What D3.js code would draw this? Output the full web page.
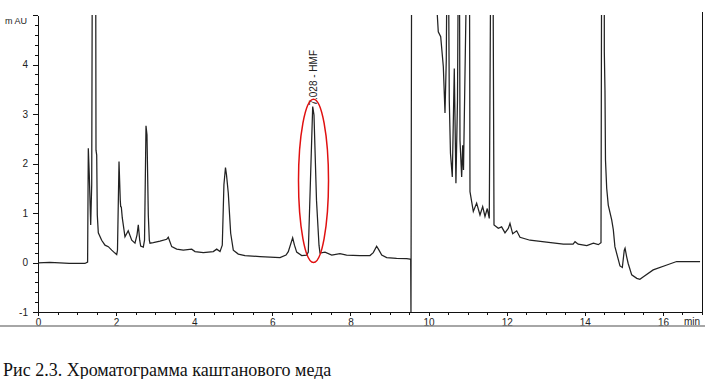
<!DOCTYPE html>
<meta charset="utf-8">
<style type="text/css">
body { margin: 0; background: #fff; }
svg { display: block; }
.axis text { font: 10px "Liberation Sans", Arial, sans-serif; fill: #222; }
.axis path, .axis line { stroke: #111; shape-rendering: crispEdges; }
.caption { font: 18px "Liberation Serif", "Times New Roman", serif; fill: #111; }
</style>
<body>
<script src="https://d3js.org/d3.v7.min.js"></script>
<script type="text/javascript">

// retention time (min) and detector signal (mAU)
var times = [0, 0.3, 0.56, 0.8, 1.2, 1.27, 1.288, 1.313, 1.349, 1.375, 1.39, 1.43, 1.477, 1.485, 1.503, 1.518, 1.544,
  1.63, 1.715, 1.8, 1.887, 1.97, 2.015, 2.035, 2.074, 2.106, 2.117, 2.133, 2.158, 2.227, 2.31, 2.4, 2.483, 2.535,
  2.568, 2.604, 2.629, 2.696, 2.727, 2.765, 2.79, 2.824, 2.85, 2.867, 2.952, 3.123, 3.295, 3.336, 3.423, 3.551,
  3.72, 3.935, 4.02, 4.232, 4.488, 4.575, 4.66, 4.718, 4.76, 4.80, 4.826, 4.872, 4.933, 5.0, 5.128, 5.3, 5.684,
  6.196, 6.35, 6.408, 6.52, 6.566, 6.623, 6.751, 6.88, 6.92, 6.976, 7.033, 7.066, 7.13, 7.194, 7.22, 7.348, 7.52,
  7.73, 7.9, 8.24, 8.5, 8.584, 8.67, 8.73, 8.8, 8.927, 9.18, 9.44, 9.524, 9.542, 9.549, 9.565, 10.0, 10.223,
  10.248, 10.31, 10.377, 10.42, 10.453, 10.47, 10.51, 10.53, 10.56, 10.607, 10.658, 10.7, 10.74, 10.76, 10.79,
  10.804, 10.847, 10.873, 10.894, 10.975, 11.047, 11.06, 11.145, 11.23, 11.316, 11.385, 11.444, 11.503, 11.554,
  11.59, 11.65, 11.675, 11.785, 11.87, 11.956, 12.04, 12.084, 12.153, 12.256, 12.34, 12.596, 13.02, 13.45, 13.7,
  13.75, 13.83, 14.05, 14.22, 14.345, 14.414, 14.43, 14.498, 14.499, 14.516, 14.529, 14.56, 14.6, 14.688, 14.73,
  14.77, 14.9, 14.96, 15.01, 15.03, 15.07, 15.11, 15.2, 15.33, 15.41, 15.5, 15.75, 16.1, 16.35, 16.95];

var signal = [-0.01, 0.0, -0.01, -0.02, -0.02, 0.01, 2.31, 1.77, 0.76, 1.57, 6, 8, 6, 2.27, 2.17, 0.96, 0.6,
  0.45, 0.35, 0.32, 0.25, 0.19, 0.16, 0.25, 2.04, 1.26, 1.13, 1.12, 0.9, 0.52, 0.64, 0.45, 0.39, 0.56,
  0.76, 0.45, 0.33, 0.31, 0.45, 2.76, 2.58, 0.96, 0.45, 0.39, 0.4, 0.43, 0.47, 0.51, 0.32, 0.27,
  0.25, 0.27, 0.22, 0.2, 0.22, 0.27, 0.22, 0.35, 1.57, 1.92, 1.77, 1.4, 0.59, 0.25, 0.17, 0.14, 0.12,
  0.1, 0.15, 0.22, 0.5, 0.35, 0.21, 0.14, 0.15, 0.21, 1.67, 3.15, 2.98, 1.26, 0.35, 0.19, 0.21, 0.15,
  0.18, 0.15, 0.14, 0.14, 0.2, 0.33, 0.25, 0.15, 0.1, 0.085, 0.08, 0.07, 0.07, -1.1, 6, 6, 5.0,
  4.66, 4.56, 3.96, 3.02, 4.09, 6, 6, 3.28, 2.21, 1.73, 3.92, 1.6, 3.28, 6, 6,
  2.47, 1.73, 2.37, 1.87, 6, 6, 1.43, 1.03, 1.2, 0.96, 1.13, 0.93, 1.09, 0.89,
  6, 6, 0.76, 0.69, 0.72, 0.6, 0.69, 0.79, 0.58, 0.64, 0.51, 0.45, 0.41, 0.37, 0.37,
  0.42, 0.37, 0.34, 0.39, 0.36, 0.4, 6, 6, 4.26, 3.48, 2.07, 1.5, 1.16, 0.86, 0.66,
  0.32, -0.07, -0.1, 0.25, 0.29, 0.12, -0.02, -0.25, -0.32, -0.34, -0.29, -0.15, -0.05, 0.02, 0.02];

var xMajor = [0, 2, 4, 6, 8, 10, 12, 14, 16];
var yMajor = [-1, 0, 1, 2, 3, 4, 5];
var peakTime = 7.028, peakLabel = "7.028 - HMF";
var caption = "Рис 2.3. Хроматограмма каштанового меда";

var W = 711, H = 379;
var svg = d3.select("body").append("svg").attr("width", W).attr("height", H);

var x = d3.scaleLinear().domain([0, 17]).range([38, 702]);
var y = d3.scaleLinear().domain([-1, 5]).range([312, 15]);

svg.append("clipPath").attr("id", "plot")
  .append("rect").attr("x", 38).attr("y", 15).attr("width", 664).attr("height", 297);

// minor ticks first
svg.append("g").attr("class", "axis").attr("transform", "translate(38,0)")
  .call(d3.axisLeft(y).tickValues(d3.range(-1, 5.01, 0.2)).tickSize(3).tickFormat(""))
  .select(".domain").remove();
svg.append("g").attr("class", "axis").attr("transform", "translate(0,312)")
  .call(d3.axisBottom(x).tickValues(d3.range(0, 17.01, 0.5)).tickSize(3).tickFormat(""))
  .select(".domain").remove();

svg.append("g").attr("class", "axis").attr("transform", "translate(38,0)")
  .call(d3.axisLeft(y).tickValues(yMajor).tickSize(5).tickSizeOuter(0).tickPadding(5)
    .tickFormat(function(d) { return d == 5 ? "" : d; }));
svg.append("g").attr("class", "axis").attr("transform", "translate(0,312)")
  .call(d3.axisBottom(x).tickValues(xMajor).tickSize(4).tickSizeOuter(0).tickPadding(3));

svg.append("text").attr("class", "axis").attr("x", 5).attr("y", 24)
  .style("font", "9px 'Liberation Sans', Arial, sans-serif").style("fill", "#222").text("m AU");
svg.append("text").attr("x", 684).attr("y", 325)
  .style("font", "10px 'Liberation Sans', Arial, sans-serif").style("fill", "#222").text("min");

// right frame and bottom rule
svg.append("line").attr("x1", x(17)).attr("x2", x(17)).attr("y1", 12).attr("y2", 312)
  .attr("stroke", "#111").attr("shape-rendering", "crispEdges");
svg.append("line").attr("x1", 0).attr("x2", 705).attr("y1", 326).attr("y2", 326)
  .attr("stroke", "#888").attr("stroke-width", 1.5);

var pts = times.map(function(t, i) { return [t, signal[i]]; });
svg.append("path").datum(pts)
  .attr("clip-path", "url(#plot)")
  .attr("fill", "none").attr("stroke", "#222").attr("stroke-width", 1.25)
  .attr("d", d3.line().x(function(d) { return x(d[0]); }).y(function(d) { return y(d[1]); }));

// peak annotation
svg.append("text")
  .attr("transform", "translate(" + (x(peakTime) + 4) + "," + (y(3.15) - 1) + ") rotate(-90)")
  .style("font", "10px 'Liberation Sans', Arial, sans-serif").style("fill", "#222")
  .text(peakLabel);

svg.append("ellipse")
  .attr("cx", x(peakTime) + 1).attr("cy", (y(3.3) + y(0)) / 2)
  .attr("rx", 15).attr("ry", (y(0) - y(3.3)) / 2)
  .attr("fill", "none").attr("stroke", "#e01010").attr("stroke-width", 1.5);

svg.append("text").attr("class", "caption").attr("x", 3).attr("y", 376).text(caption);

</script>
